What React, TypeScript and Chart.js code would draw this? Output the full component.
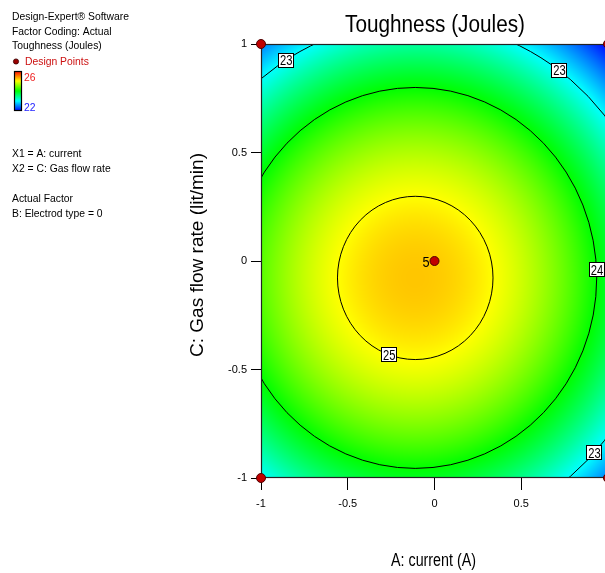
import React, { useEffect, useRef } from "react";
import { Chart, registerables } from "chart.js";

Chart.register(...registerables);

// ---- data ----
const xTicks = [-1, -0.5, 0, 0.5, 1];
const yTicks = [-1, -0.5, 0, 0.5, 1];
const designA = [-1, 1, -1, 1, 0];
const designC = [1, 1, -1, -1, 0];
const designRuns = [1, 1, 1, 1, 5];
const contourLevels = [23, 24, 25];
const labelLevels = [23, 23, 23, 24, 25];
const labelAngles = [122, 54, -43, 2.5, -110];
const surfacePeak = 25.225;
const surfaceCenter = [-0.111, -0.078];
const surfaceCurvature = [1.12, 1.59];
// colour scale
const colorValues = [22, 23, 24, 25, 26];
const colorStops = [
  [0, 0, 255],
  [0, 255, 255],
  [0, 255, 0],
  [255, 255, 0],
  [255, 0, 0],
];
const infoLines = [
  "Design-Expert\u00ae Software",
  "Factor Coding: Actual",
  "Toughness (Joules)",
];
const factorLines = ["X1 = A: current", "X2 = C: Gas flow rate", "", "Actual Factor", "B: Electrod type = 0"];
const titleText = "Toughness (Joules)";
const xTitle = "A: current (A)";
const yTitle = "C: Gas flow rate (lit/min)";

const FONT = "'Liberation Sans', Arial, sans-serif";
const W = 866;
const H = 573;
const PLOT_RIGHT = 608;

function surface(a: number, c: number) {
  return (
    surfacePeak -
    surfaceCurvature[0] * (a - surfaceCenter[0]) ** 2 -
    surfaceCurvature[1] * (c - surfaceCenter[1]) ** 2
  );
}

function colorAt(v: number): number[] {
  const lo = colorValues[0];
  const hi = colorValues[colorValues.length - 1];
  const t = Math.min(hi, Math.max(lo, v));
  for (let i = 0; i < colorValues.length - 1; i++) {
    if (t <= colorValues[i + 1]) {
      const f = (t - colorValues[i]) / (colorValues[i + 1] - colorValues[i]);
      const a = colorStops[i];
      const b = colorStops[i + 1];
      return [a[0] + (b[0] - a[0]) * f, a[1] + (b[1] - a[1]) * f, a[2] + (b[2] - a[2]) * f];
    }
  }
  return colorStops[colorStops.length - 1];
}

function drawText(
  ctx: CanvasRenderingContext2D,
  text: string,
  x: number,
  y: number,
  size: number,
  sx: number,
  align: "left" | "center" | "right",
  color: string
) {
  ctx.save();
  ctx.font = `${size}px ${FONT}`;
  ctx.fillStyle = color;
  ctx.textBaseline = "alphabetic";
  ctx.textAlign = "left";
  const w = ctx.measureText(text).width * sx;
  const left = align === "center" ? x - w / 2 : align === "right" ? x - w : x;
  ctx.translate(left, y);
  ctx.scale(sx, 1);
  ctx.fillText(text, 0, 0);
  ctx.restore();
}

function drawFitted(
  ctx: CanvasRenderingContext2D,
  text: string,
  x: number,
  y: number,
  size: number,
  width: number,
  color: string
) {
  ctx.save();
  ctx.font = `${size}px ${FONT}`;
  const sx = width / ctx.measureText(text).width;
  ctx.restore();
  drawText(ctx, text, x, y, size, sx, "center", color);
}

const surfacePlugin = {
  id: "surfacePlugin",
  beforeDatasetsDraw(chart: any) {
    const { ctx, chartArea: ca, scales } = chart;
    const xs = scales.x;
    const ys = scales.y;
    const w = Math.round(ca.right - ca.left);
    const h = Math.round(ca.bottom - ca.top);
    const off = document.createElement("canvas");
    off.width = w;
    off.height = h;
    const octx = off.getContext("2d")!;
    const img = octx.createImageData(w, h);
    for (let j = 0; j < h; j++) {
      const c = ys.getValueForPixel(ca.top + j + 0.5);
      for (let i = 0; i < w; i++) {
        const a = xs.getValueForPixel(ca.left + i + 0.5);
        const col = colorAt(surface(a, c));
        const k = (j * w + i) * 4;
        img.data[k] = col[0];
        img.data[k + 1] = col[1];
        img.data[k + 2] = col[2];
        img.data[k + 3] = 255;
      }
    }
    octx.putImageData(img, 0, 0);
    ctx.drawImage(off, ca.left, ca.top);

    const cx = xs.getPixelForValue(surfaceCenter[0]);
    const cy = ys.getPixelForValue(surfaceCenter[1]);
    const radii = (level: number) => {
      const rA = Math.sqrt((surfacePeak - level) / surfaceCurvature[0]);
      const rC = Math.sqrt((surfacePeak - level) / surfaceCurvature[1]);
      return [rA, rC];
    };

    // contour lines
    ctx.save();
    ctx.beginPath();
    ctx.rect(ca.left, ca.top, ca.right - ca.left, ca.bottom - ca.top);
    ctx.clip();
    ctx.strokeStyle = "#000";
    ctx.lineWidth = 1;
    contourLevels.forEach((lv) => {
      const [rA, rC] = radii(lv);
      const rx = Math.abs(xs.getPixelForValue(surfaceCenter[0] + rA) - cx);
      const ry = Math.abs(ys.getPixelForValue(surfaceCenter[1] + rC) - cy);
      ctx.beginPath();
      ctx.ellipse(cx, cy, rx, ry, 0, 0, Math.PI * 2);
      ctx.stroke();
    });
    ctx.restore();

    // contour labels
    labelLevels.forEach((lv, idx) => {
      const [rA, rC] = radii(lv);
      const t = (labelAngles[idx] * Math.PI) / 180;
      const px = xs.getPixelForValue(surfaceCenter[0] + rA * Math.cos(t));
      const py = ys.getPixelForValue(surfaceCenter[1] + rC * Math.sin(t));
      const bw = 16;
      const bh = 15;
      ctx.save();
      ctx.fillStyle = "#fff";
      ctx.fillRect(Math.round(px - bw / 2), Math.round(py - bh / 2), bw, bh);
      ctx.strokeStyle = "#000";
      ctx.lineWidth = 1;
      ctx.strokeRect(Math.round(px - bw / 2) + 0.5, Math.round(py - bh / 2) + 0.5, bw - 1, bh - 1);
      ctx.restore();
      drawText(ctx, String(lv), px + 0.5, py + 5, 14, 0.8, "center", "#000");
    });

    // plot frame
    ctx.save();
    ctx.strokeStyle = "#222";
    ctx.lineWidth = 1.2;
    ctx.strokeRect(ca.left + 0.5, ca.top + 0.5, ca.right - ca.left - 1, ca.bottom - ca.top - 1);
    ctx.restore();
  },
  afterDatasetsDraw(chart: any) {
    const { ctx, scales } = chart;
    designRuns.forEach((n, i) => {
      if (n > 1) {
        const px = scales.x.getPixelForValue(designA[i]);
        const py = scales.y.getPixelForValue(designC[i]);
        drawText(ctx, String(n), px - 5, py + 5.5, 15, 0.85, "right", "#000");
      }
    });
  },
  afterDraw(chart: any) {
    const { ctx, chartArea: ca } = chart;
    // title
    drawFitted(ctx, titleText, (ca.left + ca.right) / 2 + 0.5, 32, 23, 180, "#000");
    // x title
    drawFitted(ctx, xTitle, (ca.left + ca.right) / 2 - 1, 566, 17.5, 85, "#000");
    // y title (rotated)
    ctx.save();
    ctx.translate(203, 255);
    ctx.rotate(-Math.PI / 2);
    drawFitted(ctx, yTitle, 0, 0, 18, 204, "#000");
    ctx.restore();

    // info block
    const fs = 11.5;
    const sx = 0.9;
    infoLines.forEach((t, i) => drawText(ctx, t, 12, 20 + i * 14.5, fs, sx, "left", "#000"));
    // design points legend
    ctx.save();
    ctx.beginPath();
    ctx.arc(16, 61.5, 2.6, 0, Math.PI * 2);
    ctx.fillStyle = "#9a0000";
    ctx.fill();
    ctx.lineWidth = 0.8;
    ctx.strokeStyle = "#3a0000";
    ctx.stroke();
    ctx.restore();
    drawText(ctx, "Design Points", 25, 65, fs, sx, "left", "#cc1111");
    // colour bar
    const barTop = 71;
    const barBot = 111;
    const grad = ctx.createLinearGradient(0, barBot, 0, barTop);
    const lo = colorValues[0];
    const hi = colorValues[colorValues.length - 1];
    colorValues.forEach((v, i) => {
      const c = colorStops[i];
      grad.addColorStop((v - lo) / (hi - lo), `rgb(${c[0]},${c[1]},${c[2]})`);
    });
    ctx.save();
    ctx.fillStyle = grad;
    ctx.fillRect(14, barTop, 8, barBot - barTop);
    ctx.strokeStyle = "#000";
    ctx.lineWidth = 1.2;
    ctx.strokeRect(14.5, barTop + 0.5, 7, barBot - barTop - 1);
    ctx.restore();
    drawText(ctx, String(hi), 24, 81, fs, sx, "left", "#ee2222");
    drawText(ctx, String(lo), 24, 111, fs, sx, "left", "#2222ff");
    factorLines.forEach((t, i) => {
      if (t) drawText(ctx, t, 12, 157 + i * 15, fs, sx, "left", "#000");
    });
  },
};

export default function App() {
  const ref = useRef<HTMLCanvasElement | null>(null);
  useEffect(() => {
    document.body.style.margin = "0";
    document.body.style.overflow = "hidden";
    const canvas = ref.current!;
    const chart = new Chart(canvas, {
      type: "scatter",
      data: {
        datasets: [
          {
            data: designA.map((a, i) => ({ x: a, y: designC[i] })),
            pointRadius: 4.5,
            pointHoverRadius: 4.5,
            backgroundColor: "#c00000",
            borderColor: "#500000",
            borderWidth: 1,
            clip: false as any,
          },
        ],
      },
      options: {
        responsive: false,
        animation: false,
        events: [],
        layout: { padding: { left: 0, right: W - PLOT_RIGHT, top: 44, bottom: 0 } },
        plugins: { legend: { display: false }, title: { display: false }, tooltip: { enabled: false } },
        scales: {
          x: {
            type: "linear",
            min: -1,
            max: 1,
            afterFit: (s: any) => {
              s.height = H - 478;
            },
            afterBuildTicks: (s: any) => {
              s.ticks = xTicks.map((v) => ({ value: v }));
            },
            ticks: {
              color: "#000",
              font: { family: FONT, size: 11 },
              padding: 7,
              maxRotation: 0,
              autoSkip: false,
              callback: (v: any) => String(v),
            },
            grid: { drawOnChartArea: false, drawTicks: true, tickLength: 12, color: "#000", lineWidth: 1 },
            border: { display: false },
          },
          y: {
            type: "linear",
            min: -1,
            max: 1,
            afterFit: (s: any) => {
              s.width = 261;
            },
            afterBuildTicks: (s: any) => {
              s.ticks = yTicks.map((v) => ({ value: v }));
            },
            ticks: {
              color: "#000",
              font: { family: FONT, size: 11 },
              padding: 4,
              autoSkip: false,
              callback: (v: any) => String(v),
            },
            grid: { drawOnChartArea: false, drawTicks: true, tickLength: 10, color: "#000", lineWidth: 1 },
            border: { display: false },
          },
        },
      },
      plugins: [surfacePlugin],
    });
    return () => chart.destroy();
  }, []);
  return (
    <div style={{ position: "absolute", left: 0, top: 0, width: 605, height: 573, overflow: "hidden", background: "#fff" }}>
      <canvas ref={ref} width={W} height={H} style={{ display: "block" }} />
    </div>
  );
}
